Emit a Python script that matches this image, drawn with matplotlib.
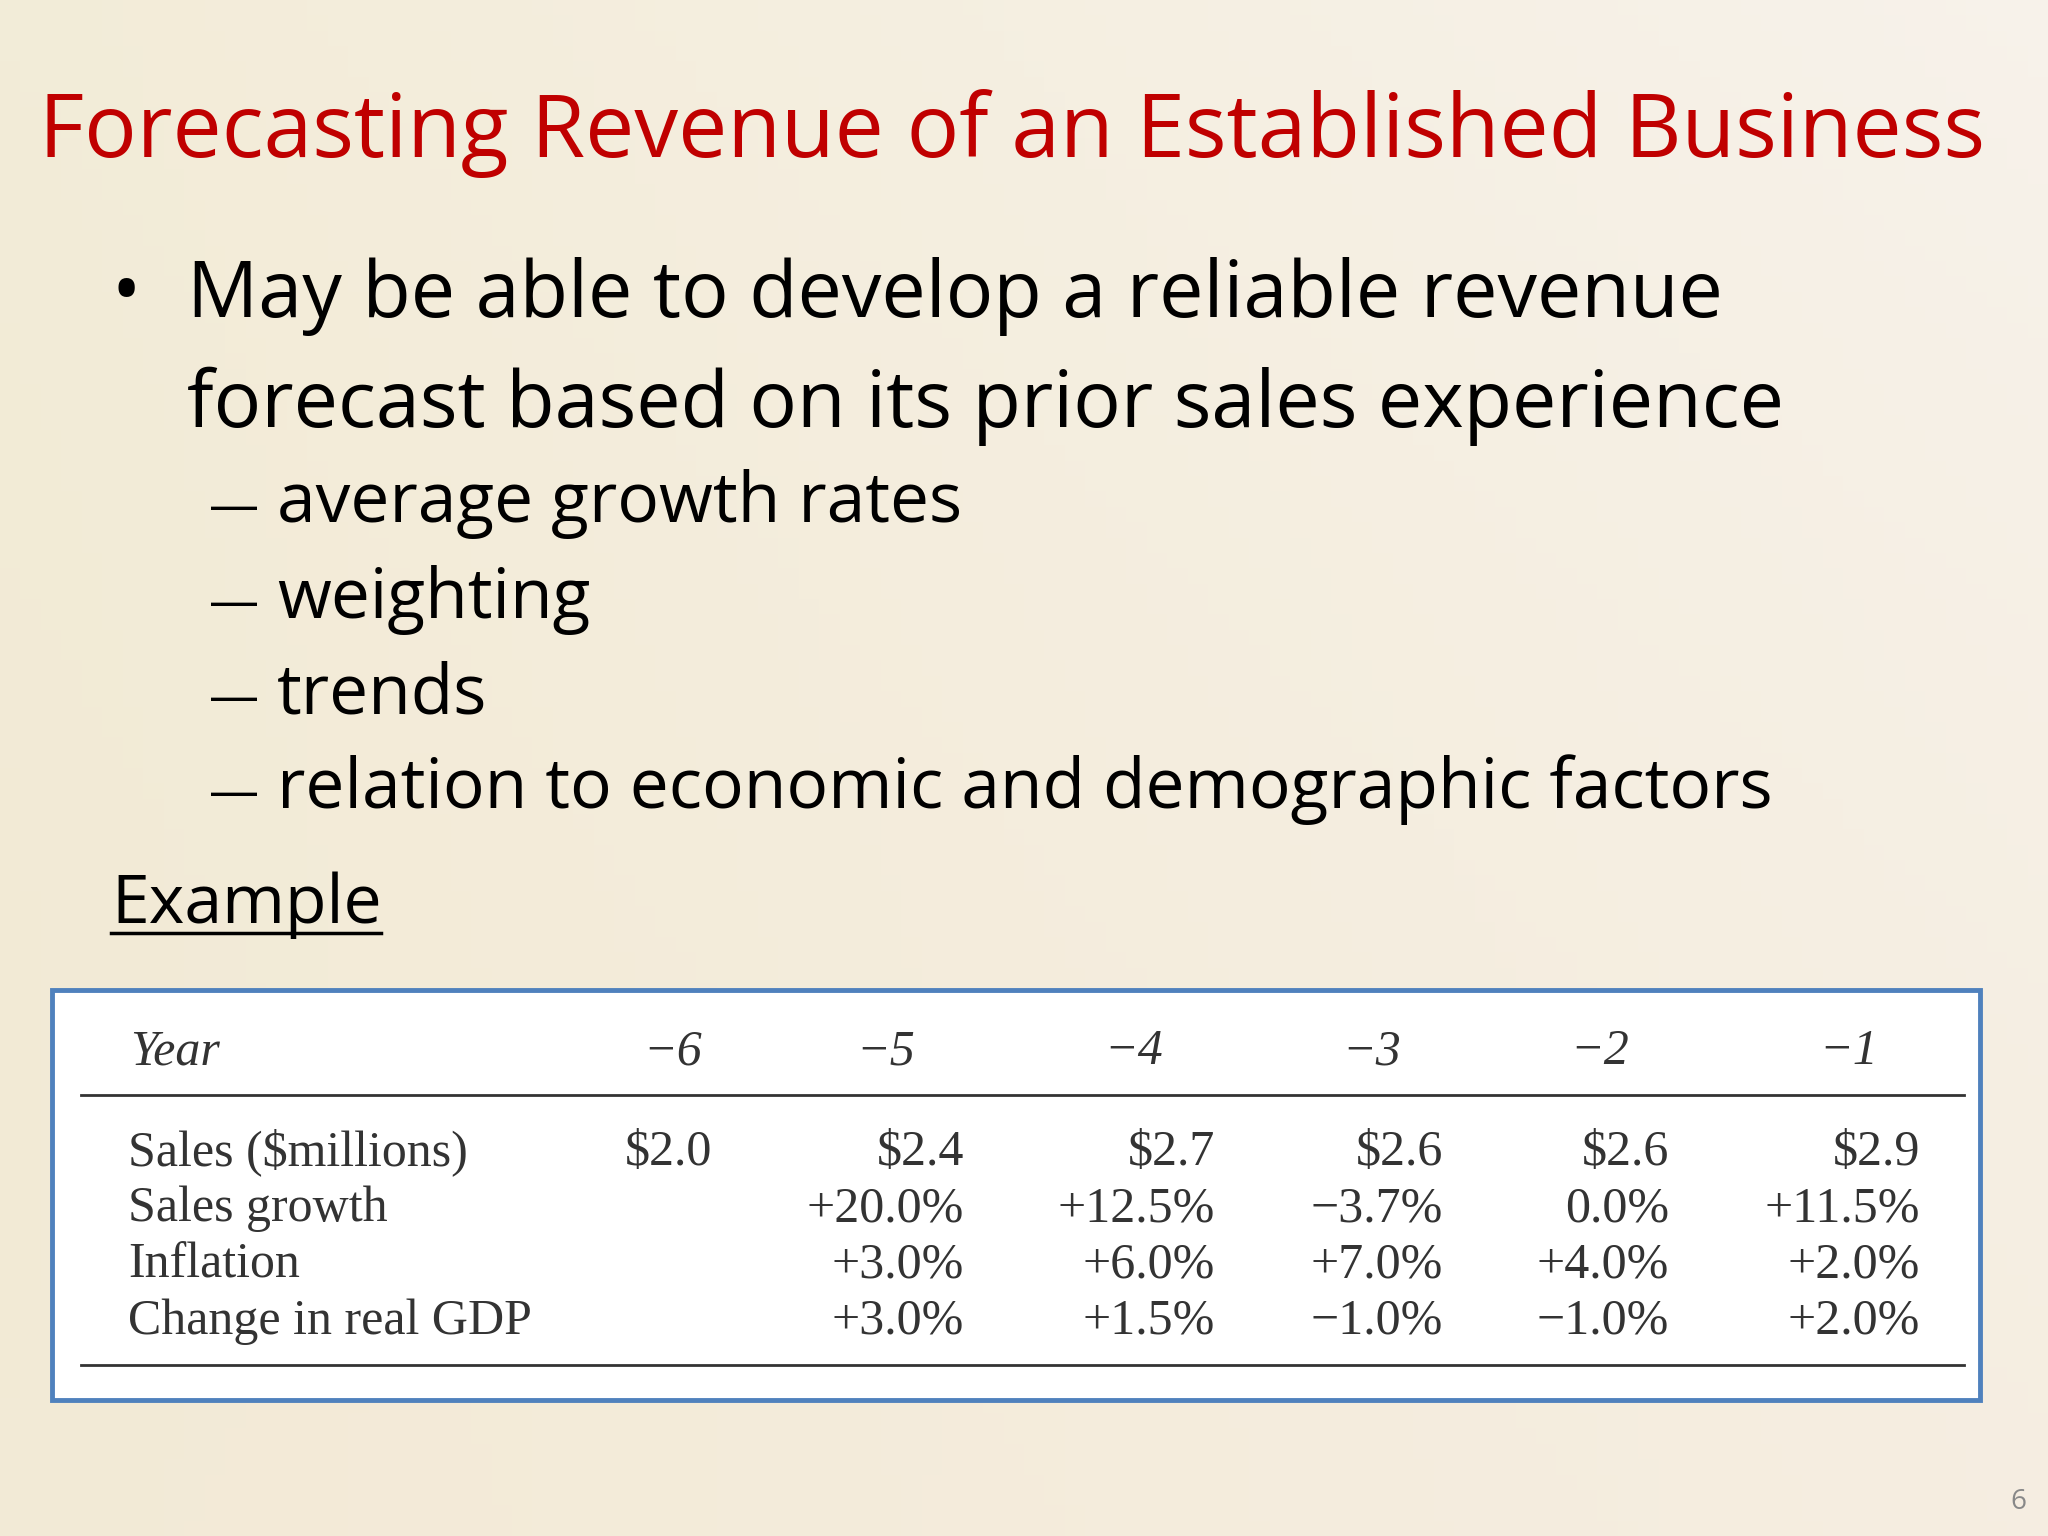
import numpy as np
import matplotlib
matplotlib.use("Agg")
import matplotlib.pyplot as plt

title = "Forecasting Revenue of an Established Business"
bullet = ["May be able to develop a reliable revenue",
          "forecast based on its prior sales experience"]
subs = ["average growth rates", "weighting", "trends",
        "relation to economic and demographic factors"]

years = ["\u22126", "\u22125", "\u22124", "\u22123", "\u22122", "\u22121"]
row_labels = ["Sales ($millions)", "Sales growth", "Inflation", "Change in real GDP"]
sales = ["$2.0", "$2.4", "$2.7", "$2.6", "$2.6", "$2.9"]
growth = ["", "+20.0%", "+12.5%", "\u22123.7%", "0.0%", "+11.5%"]
inflation = ["", "+3.0%", "+6.0%", "+7.0%", "+4.0%", "+2.0%"]
gdp = ["", "+3.0%", "+1.5%", "\u22121.0%", "\u22121.0%", "+2.0%"]
rows = [sales, growth, inflation, gdp]

W, H = 1568, 1176
fig = plt.figure(figsize=(20.48, 15.36), dpi=100)
ax = fig.add_axes([0, 0, 1, 1])
ax.set_xlim(0, W)
ax.set_ylim(H, 0)
ax.axis("off")

# background gradient: cream top-left, lighter right, slightly pink bottom
yy, xx = np.mgrid[0:1:100j, 0:1:100j]
c1 = np.array([0.94, 0.91, 0.80])
c2 = np.array([0.97, 0.95, 0.92])
c3 = np.array([0.97, 0.93, 0.90])
t = np.clip(0.6 * xx + 0.4 * (1 - yy), 0, 1)[..., None]
bg = c1 * (1 - t) + c2 * t
bg = bg * (1 - 0.4 * yy[..., None]) + c3 * 0.4 * yy[..., None]
ax.imshow(bg, extent=(0, W, H, 0), aspect="auto", zorder=0)

sans = "Open Sans"
ax.text(30, 120, title, fontsize=63, color="#c00000", family=sans, va="baseline")

ax.text(85, 243, "\u2022", fontsize=56, family=sans, va="baseline")
for i, line in enumerate(bullet):
    ax.text(143, 243 + i * 84, line, fontsize=57, family=sans, va="baseline")
for i, s in enumerate(subs):
    y = 400 + i * 73
    ax.text(160, y, "\u2014", fontsize=36, family=sans, va="baseline")
    ax.text(212, y, s, fontsize=50, family=sans, va="baseline")

ax.text(85, 707, "Example", fontsize=49, family=sans, va="baseline")
ax.plot([85, 292], [714, 714], color="black", lw=2.5)

# table box
ax.add_patch(plt.Rectangle((40, 758), 1476, 314, fill=True, facecolor="white",
                           edgecolor="#4f81bd", lw=3.5, zorder=1))
serif = "Liberation Serif"
fs = 36
year_x = [515, 678, 868, 1050, 1225, 1415]
col_right = [545, 738, 930, 1105, 1278, 1470]
ax.text(100, 815, "Year", fontsize=fs, family=serif, style="italic", color="#333333", zorder=2)
for x, y in zip(year_x, years):
    ax.text(x, 815, y, fontsize=fs, family=serif, style="italic", ha="center",
            color="#333333", zorder=2)
ax.plot([62, 1504], [838, 838], color="#333333", lw=2, zorder=2)
for r, (lab, vals) in enumerate(zip(row_labels, rows)):
    y = 892 + r * 43
    ax.text(98, y, lab, fontsize=fs, family=serif, color="#333333", zorder=2)
    for x, v in zip(col_right, vals):
        ax.text(x, y, v, fontsize=fs, family=serif, ha="right", color="#333333", zorder=2)
ax.plot([62, 1504], [1045, 1045], color="#333333", lw=2, zorder=2)

ax.text(1545, 1155, "6", fontsize=20, family=sans, color="#888888", ha="center")

fig.savefig("out.png", dpi=100)
